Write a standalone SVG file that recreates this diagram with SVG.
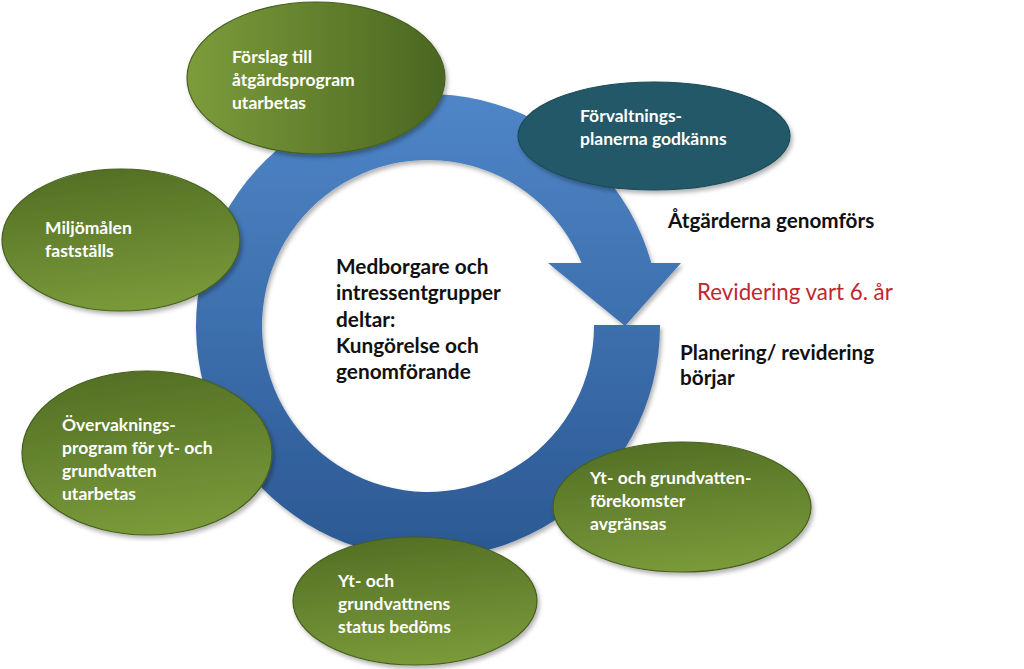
<svg xmlns="http://www.w3.org/2000/svg" width="1024" height="669" viewBox="0 0 1024 669">
<defs>
<linearGradient id="ringGrad" gradientUnits="userSpaceOnUse" x1="0" y1="94" x2="0" y2="558">
<stop offset="0" stop-color="#4f86c8"/>
<stop offset="1" stop-color="#2b5892"/>
</linearGradient>
<linearGradient id="gH" x1="0" y1="0" x2="1" y2="0">
<stop offset="0" stop-color="#7c9c3b"/>
<stop offset="1" stop-color="#4b6621"/>
</linearGradient>
<linearGradient id="gV" x1="0.3" y1="0" x2="0.5" y2="1">
<stop offset="0" stop-color="#536f25"/>
<stop offset="1" stop-color="#7a9a3a"/>
</linearGradient>
<filter id="sh" x="-10%" y="-10%" width="125%" height="130%">
<feDropShadow dx="2" dy="3" stdDeviation="2" flood-color="#000" flood-opacity="0.3"/>
</filter>
<style>
.green { stroke:#45601d; stroke-width:1.2; filter:url(#sh); }
.teal { fill:#215868; stroke:#1b4a58; stroke-width:1.2; filter:url(#sh); }
.lbl { font-family:Lato,"Liberation Sans",sans-serif; font-weight:bold; font-size:17.5px; fill:#ffffff; }
.ctr { font-family:Lato,"Liberation Sans",sans-serif; font-weight:bold; font-size:20.8px; fill:#111111; }
.side { font-family:Lato,"Liberation Sans",sans-serif; font-weight:bold; font-size:20.7px; fill:#111111; }
.red { font-family:Lato,"Liberation Sans",sans-serif; font-size:22.3px; fill:#c0272d; }
</style>
</defs>
<rect width="1024" height="669" fill="#ffffff"/>
<g id="connectors">
<path id="cycle-arrow" d="M 581.6 263 L 548 263 L 625 326 L 681 263 L 651.3 263 A 232 232 0 1 0 660 325 L 594 325 A 166 166 0 1 1 581.6 263 Z" fill="url(#ringGrad)" filter="url(#sh)"/>
</g>
<g id="center-text">
<text class="ctr" x="336" y="274">Medborgare och</text>
<text class="ctr" x="336" y="300">intressentgrupper</text>
<text class="ctr" x="336" y="327">deltar:</text>
<text class="ctr" x="336" y="353">Kungörelse och</text>
<text class="ctr" x="336" y="379">genomförande</text>
</g>
<g id="node-forslag">
<ellipse class="green" cx="316" cy="78" rx="129" ry="76" fill="url(#gH)"/>
<text class="lbl" x="232" y="63">Förslag till</text>
<text class="lbl" x="232" y="86">åtgärdsprogram</text>
<text class="lbl" x="232" y="109">utarbetas</text>
</g>
<g id="node-forvaltning">
<ellipse class="teal" cx="654" cy="136" rx="136" ry="54"/>
<text class="lbl" x="580" y="122">Förvaltnings-</text>
<text class="lbl" x="580" y="145">planerna godkänns</text>
</g>
<g id="node-miljomal">
<ellipse class="green" cx="121" cy="240" rx="119" ry="71" fill="url(#gV)"/>
<text class="lbl" x="45" y="234">Miljömålen</text>
<text class="lbl" x="45" y="257">fastställs</text>
</g>
<g id="node-overvakning">
<ellipse class="green" cx="147" cy="453" rx="125" ry="82" fill="url(#gV)"/>
<text class="lbl" x="62" y="431">Övervaknings-</text>
<text class="lbl" x="62" y="454">program  för yt- och</text>
<text class="lbl" x="62" y="477">grundvatten</text>
<text class="lbl" x="62" y="500">utarbetas</text>
</g>
<g id="node-status">
<ellipse class="green" cx="415" cy="601" rx="122" ry="64" fill="url(#gV)"/>
<text class="lbl" x="338" y="587">Yt- och</text>
<text class="lbl" x="338" y="610">grundvattnens</text>
<text class="lbl" x="338" y="633">status bedöms</text>
</g>
<g id="node-forekomster">
<ellipse class="green" cx="682" cy="507" rx="129" ry="65" fill="url(#gV)"/>
<text class="lbl" x="590" y="484">Yt- och grundvatten-</text>
<text class="lbl" x="590" y="507">förekomster</text>
<text class="lbl" x="590" y="530">avgränsas</text>
</g>
<g id="side-labels">
<text class="side" x="668" y="228">Åtgärderna genomförs</text>
<text class="red" x="697" y="300">Revidering vart 6. år</text>
<text class="side" x="680" y="360">Planering/ revidering</text>
<text class="side" x="680" y="385">börjar</text>
</g>
</svg>
